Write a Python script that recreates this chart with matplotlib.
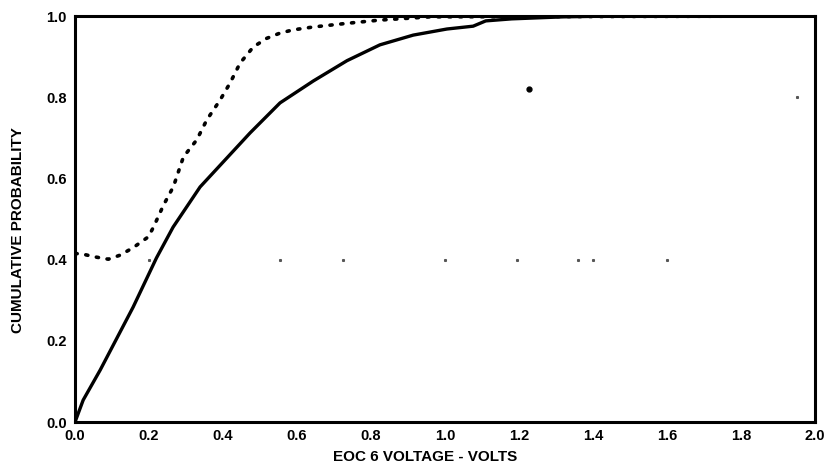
import numpy as np
import matplotlib
matplotlib.use('Agg')
from matplotlib import pyplot as plt

# Cumulative distribution of EOC 6 voltage: solid and dotted curves
solid_v = [0.0, 0.022, 0.068, 0.157, 0.22, 0.265, 0.338, 0.473, 0.554,
           0.644, 0.735, 0.824, 0.914, 1.005, 1.076, 1.11, 1.18, 1.32, 1.45, 2.0]
solid_p = [0.0, 0.054, 0.128, 0.283, 0.404, 0.48, 0.579, 0.712, 0.786,
           0.84, 0.89, 0.929, 0.953, 0.968, 0.975, 0.988, 0.993, 0.998, 1.0, 1.0]

dotted_v = [0.0, 0.018, 0.058, 0.09, 0.122, 0.158, 0.198, 0.212, 0.239, 0.266,
            0.284, 0.293, 0.329, 0.356, 0.392, 0.419, 0.446, 0.482, 0.518,
            0.554, 0.59, 0.644, 0.735, 0.824, 0.96, 2.0]
dotted_p = [0.415, 0.414, 0.406, 0.401, 0.411, 0.43, 0.456, 0.48, 0.534, 0.58,
            0.629, 0.653, 0.695, 0.744, 0.793, 0.835, 0.884, 0.924, 0.945,
            0.958, 0.966, 0.973, 0.982, 0.99, 0.998, 1.0]

# isolated specks on the plot
speck_v = [0.2, 0.554, 0.724, 1.0, 1.195, 1.36, 1.40, 1.6, 1.95]
speck_p = [0.40, 0.40, 0.40, 0.40, 0.40, 0.40, 0.40, 0.40, 0.80]
dot_v = [1.228]
dot_p = [0.82]

x_ticks = [0.0, 0.2, 0.4, 0.6, 0.8, 1.0, 1.2, 1.4, 1.6, 1.8, 2.0]
x_labels = ['0.0', '0.2', '0.4', '0.6', '0.8', '1.0', '1.2', '1.4', '1.6', '1.8', '2.0']
y_ticks = [0.0, 0.2, 0.4, 0.6, 0.8, 1.0]
y_labels = ['0.0', '0.2', '0.4', '0.6', '0.8', '1.0']

plt.rcParams['font.family'] = ['Liberation Sans', 'DejaVu Sans']
plt.rcParams['font.weight'] = 'bold'

fig = plt.figure(figsize=(8.3, 4.74), dpi=100)
ax = fig.add_axes([0.0904, 0.1097, 0.8916, 0.8565])

ax.plot(solid_v, solid_p, color='black', linewidth=2.4, solid_capstyle='round')
ax.plot(dotted_v, dotted_p, color='black', linewidth=2.6,
        linestyle=(0, (0.6, 2.4)), dash_capstyle='round')
ax.plot(speck_v, speck_p, linestyle='none', marker='s', markersize=1.2,
        color='#555555')
ax.plot(dot_v, dot_p, linestyle='none', marker='o', markersize=3.5, color='black')

ax.set_xlim(0, 2.0)
ax.set_ylim(0, 1.0)
ax.set_xticks(x_ticks)
ax.set_xticklabels(x_labels, fontsize=10.5, fontweight='bold')
ax.set_yticks(y_ticks)
ax.set_yticklabels(y_labels, fontsize=10.5, fontweight='bold')
ax.tick_params(axis='x', length=0, pad=5)
ax.tick_params(axis='y', length=0, pad=6)
for s in ax.spines.values():
    s.set_linewidth(2.2)

ax.set_xlabel('EOC 6 VOLTAGE - VOLTS', fontsize=11, fontweight='bold')
ax.xaxis.set_label_coords(0.473, -0.069)
ax.set_ylabel('CUMULATIVE PROBABILITY', fontsize=11, fontweight='bold')
ax.yaxis.set_label_coords(-0.068, 0.473)

fig.savefig('out.png', dpi=100)
